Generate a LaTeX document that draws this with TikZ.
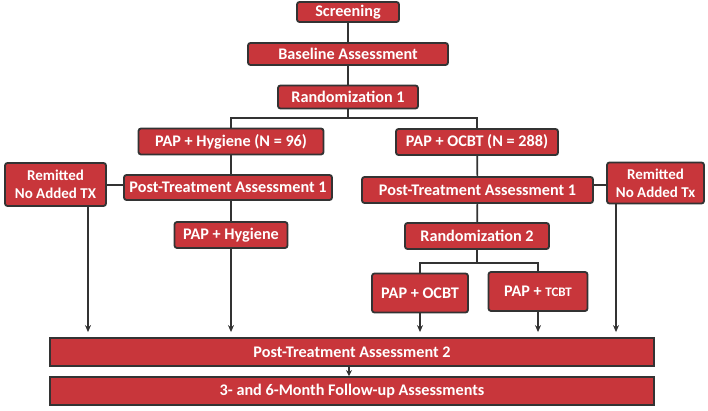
\documentclass[tikz,border=0pt]{standalone}
\usepackage{fontspec}
\setmainfont{Carlito}
\usetikzlibrary{arrows.meta,calc}
\definecolor{boxred}{HTML}{C8363B}
\definecolor{edge}{HTML}{333333}
\tikzset{
  box/.style={draw=edge,line width=1.8pt,fill=boxred,rounded corners=2.5pt,text=white,
    font=\fontsize{16.2}{18}\selectfont\bfseries,inner sep=0pt,align=center,anchor=center},
  link/.style={draw=edge,line width=1.7pt},
  arr/.style={link,-{Stealth[length=7pt,width=6pt]},shorten >=5pt}
}
\begin{document}
\begin{tikzpicture}[x=1pt,y=-1pt]
\useasboundingbox (0,0) rectangle (708,411);
\node[box,minimum width=102pt,minimum height=20pt] (scr) at (348,12) {Screening};
\node[box,minimum width=200pt,minimum height=22pt] (base) at (348,54) {Baseline Assessment};
\node[box,minimum width=140pt,minimum height=23pt] (r1) at (348,97) {Randomization 1};
\node[box,minimum width=185pt,minimum height=26pt] (hyg96) at (231,141.5) {PAP + Hygiene (N = 96)};
\node[box,minimum width=162pt,minimum height=26pt] (ocbt288) at (477,142) {PAP + OCBT (N = 288)};
\node[box,minimum width=101pt,minimum height=43pt,font=\fontsize{15}{18}\selectfont\bfseries] (remL) at (55.5,184.5) {Remitted\\No Added TX};
\node[box,minimum width=208pt,minimum height=25pt] (pta1L) at (228,187.5) {Post-Treatment Assessment 1};
\node[box,minimum width=231pt,minimum height=26pt] (pta1R) at (477.5,190) {Post-Treatment Assessment 1};
\node[box,minimum width=97pt,minimum height=41pt,font=\fontsize{15}{18}\selectfont\bfseries] (remR) at (655.5,183) {Remitted\\No Added Tx};
\node[box,minimum width=113pt,minimum height=26pt] (hyg) at (231,235) {PAP + Hygiene};
\node[box,minimum width=144pt,minimum height=26pt] (r2) at (477,236) {Randomization 2};
\node[box,minimum width=96pt,minimum height=39pt] (ocbt) at (420,293) {PAP + OCBT};
\node[box,minimum width=99pt,minimum height=39pt] (tcbt) at (538,291.5) {PAP + {\fontsize{13}{15}\selectfont TCBT}};
\node[box,minimum width=604pt,minimum height=28pt,rounded corners=0pt] (pta2) at (352,352) {Post-Treatment Assessment 2};
\node[box,minimum width=604pt,minimum height=28pt,rounded corners=0pt] (fu) at (352,391) {3- and 6-Month Follow-up Assessments};
\coordinate (split1) at (348,118);
\coordinate (split2) at (477,263);
% connectors
\draw[link] (scr) -- (base);
\draw[link] (base) -- (r1);
\draw[link] (r1.south) -- (split1);
\draw[link] (hyg96.north) |- (split1) -| (ocbt288.north);
\draw[link] (hyg96) -- (hyg96 |- pta1L.north);
\draw[link] (hyg96 |- pta1L.south) -- (hyg);
\draw[link] (remL.east |- 0,185) -- (pta1L.west |- 0,185);
\draw[link] (ocbt288) -- (pta1R);
\draw[link] (pta1R) -- (r2);
\draw[link] (pta1R.east |- 0,185) -- (remR.west |- 0,185);
\draw[link] (r2.south) -- (split2);
\draw[link] (ocbt.north) |- (split2) -| (tcbt.north);
\draw[arr] ([xshift=32.5pt]remL.south) -- ([xshift=32.5pt]remL.south |- pta2.north);
\draw[arr] (hyg.south) -- (hyg.south |- pta2.north);
\draw[arr] (ocbt.south) -- (ocbt.south |- pta2.north);
\draw[arr] (tcbt.south) -- (tcbt.south |- pta2.north);
\draw[arr] ([xshift=-39.5pt]remR.south) -- ([xshift=-39.5pt]remR.south |- pta2.north);
\draw[link,-{Stealth[length=6pt,width=6pt]}] ([xshift=-3pt]pta2.south) -- ([xshift=-3pt]fu.north);
\end{tikzpicture}
\end{document}
